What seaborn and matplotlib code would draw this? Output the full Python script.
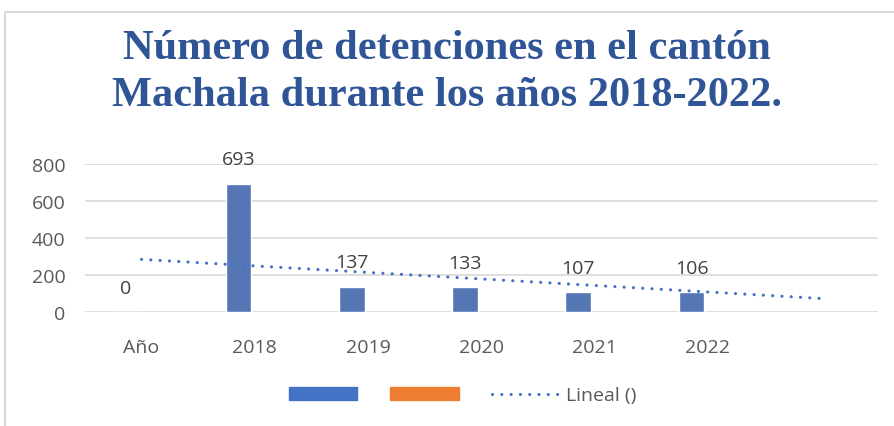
import numpy as np
import pandas as pd
import seaborn as sns
import matplotlib
matplotlib.use("Agg")
import matplotlib.pyplot as plt
from matplotlib.patches import Rectangle
from matplotlib.lines import Line2D

### datos del grafico
categorias = ["Año", "2018", "2019", "2020", "2021", "2022"]
detenciones = [0, 693, 137, 133, 107, 106]
serie_vacia = [np.nan] * 6          # la serie naranja no tiene valores
titulo = "Número de detenciones en el cantón\nMachala durante los años 2018-2022."
ticks_y = [0, 200, 400, 600, 800]

azul = "#4472C4"
naranja = "#ED7D31"
gris_txt = "#595959"
fs = 14

df = pd.DataFrame({
    "categoria": categorias * 2,
    "serie": ["s1"] * 6 + ["s2"] * 6,
    "valor": detenciones + serie_vacia,
})

sns.set_style("white")
plt.rcParams["font.family"] = ["Open Sans", "DejaVu Sans"]

fig = plt.figure(figsize=(8.94, 4.27), dpi=100)
ax = fig.add_axes([0.095, 0.267, 0.887, 0.347])

sns.barplot(data=df, x="categoria", y="valor", hue="serie",
            order=categorias + [""], hue_order=["s1", "s2"],
            palette=[azul, naranja], width=0.58, gap=0.22,
            errorbar=None, legend=False, ax=ax)

### etiquetas de datos (solo serie azul)
ax.bar_label(ax.containers[0], labels=[str(v) for v in detenciones],
             padding=11, fontsize=fs, color="#404040")

### linea de tendencia lineal (ajuste + prevision de 1 periodo)
xs = np.arange(len(detenciones))
pend, corte = np.polyfit(xs, detenciones, 1)
xt = np.array([0, len(detenciones)])
ax.plot(xt, pend * xt + corte, color=azul, lw=2.3,
        linestyle=(0, (0.01, 2.9)), dash_capstyle="round")

ax.set_ylim(0, 800)
ax.set_yticks(ticks_y)
ax.set_xlim(-0.5, 6.5)
ax.set_xlabel("")
ax.set_ylabel("")
ax.grid(axis="y", color="#D9D9D9", lw=1.2)
ax.set_axisbelow(True)
for s in ax.spines.values():
    s.set_visible(False)
ax.tick_params(axis="both", length=0, labelsize=fs, labelcolor=gris_txt)
ax.tick_params(axis="x", pad=19)
ax.tick_params(axis="y", pad=14)

### titulo
fig.text(0.5, 0.83, titulo, ha="center", va="center", fontsize=30.5,
         fontweight="bold", color="#2F5597", linespacing=1.33,
         family=["Liberation Serif", "DejaVu Serif"])

### leyenda
handles = [
    Rectangle((0, 0), 1, 1, color=azul),
    Rectangle((0, 0), 1, 1, color=naranja),
    Line2D([0], [0], color=azul, lw=2.3, linestyle=(0, (0.01, 2.9)),
           dash_capstyle="round"),
]
fig.legend(handles, ["", "", "Lineal ()"], loc="center",
           bbox_to_anchor=(0.518, 0.072), ncol=3, frameon=False,
           fontsize=fs, labelcolor=gris_txt, handlelength=3.5,
           handleheight=0.68, handletextpad=0.35, columnspacing=1.35)

### borde del grafico
fig.patches.append(Rectangle((5 / 894, -0.1), 1.2, 1.1 - 13 / 427,
                             transform=fig.transFigure, fill=False,
                             edgecolor="#D9D9D9", lw=1.5))

fig.savefig("out.png", dpi=100)
